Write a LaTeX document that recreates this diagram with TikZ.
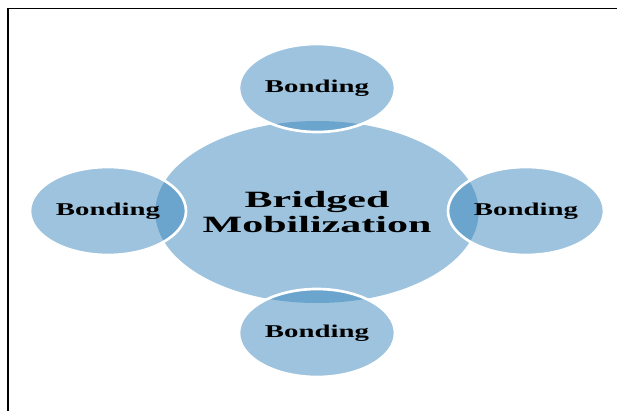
\documentclass[tikz,border=0pt]{standalone}
\usepackage{fontspec}
\setmainfont{Liberation Serif}
\usepackage{xcolor}
\definecolor{bubble}{RGB}{59,135,189}
\usetikzlibrary{shapes.geometric}
\newcommand{\widetext}[2]{\scalebox{#1}[1]{#2}}

\begin{document}
\begin{tikzpicture}[x=0.75pt,y=0.75pt,yscale=-1,xscale=1,
	hub/.style={ellipse, fill=bubble, fill opacity=0.5, text opacity=1, minimum width=236.25pt, minimum height=136.5pt, inner sep=0pt, align=center, font=\fontsize{17.5pt}{19pt}\selectfont\bfseries},
	bond/.style={ellipse, fill=bubble, fill opacity=0.5, draw=white, draw opacity=1, line width=2pt, text opacity=1, minimum width=117pt, minimum height=66pt, inner sep=0pt, font=\fontsize{13.5pt}{15pt}\selectfont\bfseries}]
	\useasboundingbox (0,0) rectangle (617,411);
	% frame
	\draw [line width=1.2pt]  (8,411) -- (8,8.5) -- (617,8.5) ;
	% centre and the four satellites
	\node [hub] (hub) at (317,212) {\widetext{1.8}{Bridged}\\\widetext{1.8}{Mobilization}};
	\node [bond] (north) at (317,88) {\widetext{1.6}{Bonding}};
	\node [bond] (south) at (317,333) {\widetext{1.6}{Bonding}};
	\node [bond] (west) at (108,211) {\widetext{1.6}{Bonding}};
	\node [bond] (east) at (526,211) {\widetext{1.6}{Bonding}};
\end{tikzpicture}
\end{document}
